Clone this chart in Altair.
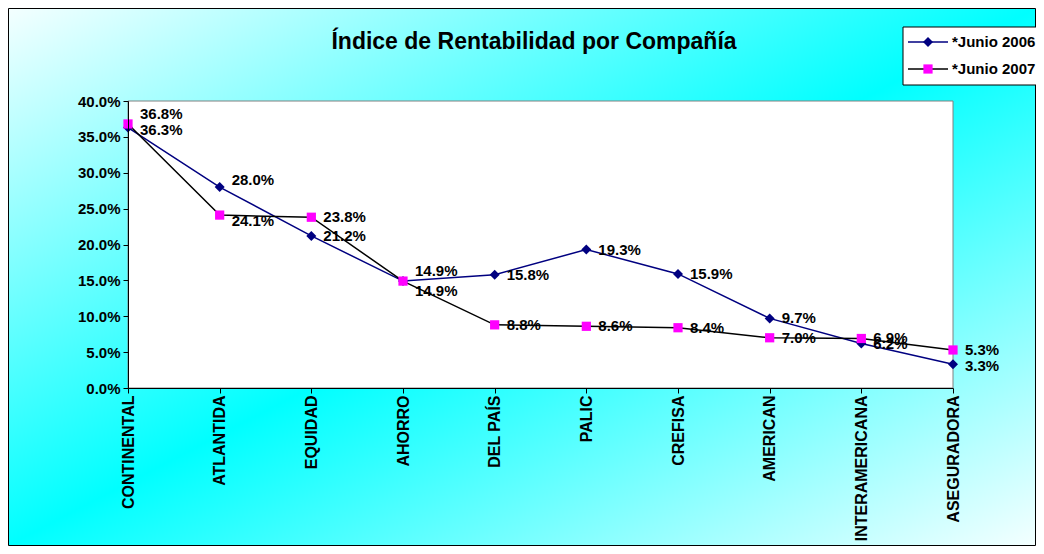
import altair as alt
import pandas as pd

# ---------------- data ----------------
categories = ["CONTINENTAL", "ATLANTIDA", "EQUIDAD", "AHORRO", "DEL PAÍS",
              "PALIC", "CREFISA", "AMERICAN", "INTERAMERICANA", "ASEGURADORA"]
junio_2006 = [0.363, 0.280, 0.212, 0.149, 0.158, 0.193, 0.159, 0.097, 0.062, 0.033]
junio_2007 = [0.368, 0.241, 0.238, 0.149, 0.088, 0.086, 0.084, 0.070, 0.069, 0.053]
series_names = ["*Junio 2006", "*Junio 2007"]
y_ticks = [0.0, 0.05, 0.10, 0.15, 0.20, 0.25, 0.30, 0.35, 0.40]
title_text = "Índice de Rentabilidad por Compañía"

# ---------------- layout / style ----------------
W, H = 825, 287
PAD = {"left": 120, "top": 93, "right": 83, "bottom": 158}
FONT = "Liberation Sans"
NAVY = "#000080"
MAGENTA = "#FF00FF"

df = pd.DataFrame({
    "Compania": categories * 2,
    "Serie": [series_names[0]] * len(categories) + [series_names[1]] * len(categories),
    "Valor": junio_2006 + junio_2007,
})
df["key"] = df["Serie"] + "|" + df["Compania"]

one = pd.DataFrame({"k": [0]})

x_enc = alt.X("Compania:N", sort=categories,
              scale=alt.Scale(type="point", padding=0),
              axis=alt.Axis(title=None, labelAngle=-90, labelFont=FONT, labelFontSize=16,
                            labelFontWeight="bold", labelColor="black", tickColor="black",
                            domainColor="black", tickSize=5, labelPadding=2, zindex=1,
                            grid=False))
y_enc = alt.Y("Valor:Q", scale=alt.Scale(domain=[0, 0.4], nice=False),
              axis=alt.Axis(title=None, values=y_ticks, format=".1%", labelFont=FONT,
                            labelFontSize=15, labelFontWeight="bold", labelColor="black",
                            tickColor="black", domainColor="black", tickSize=5,
                            labelPadding=3, zindex=1, grid=False))

base = alt.Chart(df).encode(x=x_enc, y=y_enc)

gradient = alt.LinearGradient(
    gradient="linear",
    stops=[alt.GradientStop(color="#F4FFFF", offset=0),
           alt.GradientStop(color="#00FFFF", offset=0.5),
           alt.GradientStop(color="#F4FFFF", offset=1)],
    x1=0, y1=0, x2=1, y2=1)

background = alt.Chart(one).mark_rect(fill=gradient, stroke="black", strokeWidth=1).encode(
    x=alt.value(-PAD["left"] + 0.5), x2=alt.value(W + PAD["right"] - 0.5),
    y=alt.value(-PAD["top"] + 0.5), y2=alt.value(H + PAD["bottom"] - 0.5))

plot_area = alt.Chart(one).mark_rect(fill="white", stroke="#808080", strokeWidth=1).encode(
    x=alt.value(0), x2=alt.value(W), y=alt.value(0), y2=alt.value(H))

title = alt.Chart(one).mark_text(font=FONT, fontSize=23, fontWeight="bold", color="black",
                                 align="center", baseline="middle").encode(
    x=alt.value(406), y=alt.value(-59), text=alt.value(title_text))

s06 = base.transform_filter(alt.datum.Serie == series_names[0])
s07 = base.transform_filter(alt.datum.Serie == series_names[1])

line06 = s06.mark_line(color=NAVY, strokeWidth=1.5)
pts06 = s06.mark_point(shape="diamond", filled=True, size=100, color=NAVY, opacity=1)
line07 = s07.mark_line(color="black", strokeWidth=1.5)
pts07 = s07.mark_point(shape="square", filled=True, size=85, color=MAGENTA, opacity=1)

# label vertical nudges (style only)
nudges = {
    -10: [series_names[1] + "|CONTINENTAL", series_names[1] + "|AHORRO"],
    -7: [series_names[0] + "|ATLANTIDA"],
    2: [series_names[0] + "|CONTINENTAL", series_names[0] + "|ASEGURADORA"],
    6: [series_names[1] + "|ATLANTIDA"],
    10: [series_names[0] + "|AHORRO"],
}
special = [k for v in nudges.values() for k in v]

def label_layer(data_chart, dy):
    return data_chart.mark_text(align="left", baseline="middle", dx=12, dy=dy, font=FONT,
                                fontSize=15, fontWeight="bold", color="black").encode(
        text=alt.Text("Valor:Q", format=".1%"))

labels = [label_layer(base.transform_filter(
    "indexof(" + str(special) + ", datum.key) < 0"), 0)]
for dy, keys in nudges.items():
    labels.append(label_layer(base.transform_filter(
        alt.FieldOneOfPredicate(field="key", oneOf=keys)), dy))

# legend (manual)
lx0, lx1, ly0, ly1 = 775, 915, -74, -16
legend_box = alt.Chart(one).mark_rect(fill="white", stroke="black", strokeWidth=1).encode(
    x=alt.value(lx0), x2=alt.value(lx1), y=alt.value(ly0), y2=alt.value(ly1))
leg_items = []
for i, (name, lcol, mcol, shp, sz) in enumerate([
        (series_names[0], NAVY, NAVY, "diamond", 100),
        (series_names[1], "black", MAGENTA, "square", 85)]):
    yy = -59 + 27 * i
    leg_items.append(alt.Chart(one).mark_rule(color=lcol, strokeWidth=1.5).encode(
        x=alt.value(780), x2=alt.value(820), y=alt.value(yy)))
    leg_items.append(alt.Chart(one).mark_point(shape=shp, filled=True, size=sz, color=mcol,
                                               opacity=1).encode(
        x=alt.value(800), y=alt.value(yy)))
    leg_items.append(alt.Chart(one).mark_text(font=FONT, fontSize=15, fontWeight="bold",
                                              color="black", align="left",
                                              baseline="middle").encode(
        x=alt.value(824), y=alt.value(yy), text=alt.value(name)))

chart = alt.layer(
    background, plot_area, title, line06, pts06, line07, pts07, *labels, legend_box, *leg_items
).properties(
    width=W, height=H,
    autosize=alt.AutoSizeParams(type="none"),
    padding=PAD,
    background="white",
).configure_view(stroke="transparent")

chart.save("out.html", embed_options={"renderer": "svg", "actions": False})
